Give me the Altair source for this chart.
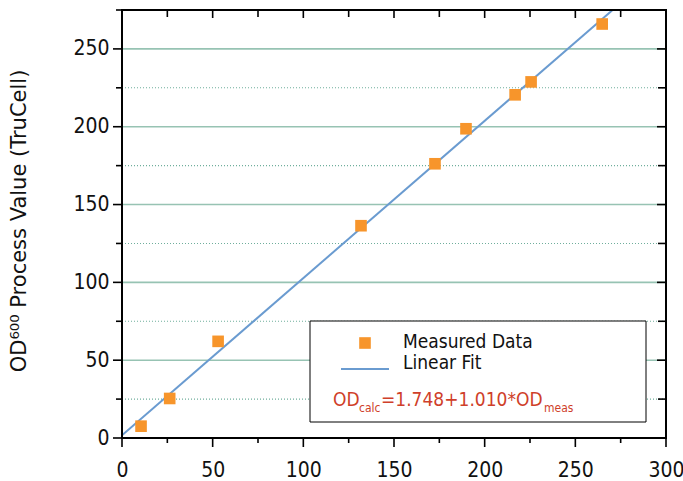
import altair as alt
import pandas as pd

# ---- data ----
x_meas = [10.5, 26.3, 53.0, 131.8, 172.6, 189.7, 216.8, 225.6, 264.8]
y_meas = [7.6, 25.4, 62.1, 136.4, 176.2, 198.7, 220.5, 228.8, 266.0]
fit_intercept = 1.748
fit_slope = 1.010
fit_x_range = [0, 300]

x_major = [0, 50, 100, 150, 200, 250, 300]
x_minor = [25, 75, 125, 175, 225, 275]
y_major = [0, 50, 100, 150, 200, 250]
y_minor = [25, 75, 125, 175, 225, 275]

FONT = "DejaVu Sans Condensed"
W, H = 544, 428

df_pts = pd.DataFrame({"x": x_meas, "y": y_meas})
df_fit = pd.DataFrame({"x": fit_x_range,
                       "y": [fit_intercept + fit_slope * v for v in fit_x_range]})
df_xmaj = pd.DataFrame({"v": x_major})
df_xmin = pd.DataFrame({"v": x_minor})
df_ymaj = pd.DataFrame({"v": y_major})
df_ymin = pd.DataFrame({"v": y_minor})
df_grid_major = pd.DataFrame({"v": y_major[1:]})

xs = alt.Scale(domain=[0, 300], nice=False, zero=False)
ys = alt.Scale(domain=[0, 275], nice=False, zero=False)

ax_x = alt.Axis(values=x_major, title=None, grid=False, domain=False,
                ticks=False, tickSize=0, labelPadding=21, labelFontSize=21,
                labelFont=FONT, labelColor="#111111", labelFlush=False)
ax_y = alt.Axis(values=y_major, title=None, grid=False, domain=False,
                ticks=False, tickSize=0, labelPadding=13, labelFontSize=21,
                labelFont=FONT, labelColor="#111111", labelFlush=False)

def X(field):
    return alt.X(field, type="quantitative", scale=xs, axis=ax_x)

def Y(field):
    return alt.Y(field, type="quantitative", scale=ys, axis=ax_y)

one = df_pts.head(1)

# grid lines
grid_major = alt.Chart(df_grid_major).mark_rule(color="#97c3b3", strokeWidth=1.6).encode(
    y=Y("v"), x=alt.value(0), x2=alt.value(W))
grid_minor = alt.Chart(df_ymin).mark_rule(color="#6fae9c", strokeWidth=1.1,
                                          strokeDash=[1, 2]).encode(
    y=Y("v"), x=alt.value(0), x2=alt.value(W))

# fitted line
fit = alt.Chart(df_fit).mark_line(color="#6a9bd0", strokeWidth=2, clip=True).encode(
    x=X("x"), y=Y("y"))

# measured points
pts = alt.Chart(df_pts).mark_square(size=135, color="#f7952b", opacity=1).encode(
    x=X("x"), y=Y("y"))

# frame
fr = dict(color="black", strokeWidth=2)
frame = [
    alt.Chart(one).mark_rule(**fr).encode(x=alt.value(0), y=alt.value(-1), y2=alt.value(H + 1)),
    alt.Chart(one).mark_rule(**fr).encode(x=alt.value(W), y=alt.value(-1), y2=alt.value(H + 1)),
    alt.Chart(one).mark_rule(**fr).encode(y=alt.value(0), x=alt.value(-1), x2=alt.value(W + 1)),
    alt.Chart(one).mark_rule(**fr).encode(y=alt.value(H), x=alt.value(-1), x2=alt.value(W + 1)),
]

# tick marks (outer left/bottom, inner top/right)
tk = dict(color="black", strokeWidth=1.6)
ticks = [
    alt.Chart(df_ymaj).mark_rule(**tk).encode(y=Y("v"), x=alt.value(-9), x2=alt.value(0)),
    alt.Chart(df_ymin).mark_rule(**tk).encode(y=Y("v"), x=alt.value(-6), x2=alt.value(0)),
    alt.Chart(df_xmaj).mark_rule(**tk).encode(x=X("v"), y=alt.value(H), y2=alt.value(H + 9)),
    alt.Chart(df_xmin).mark_rule(**tk).encode(x=X("v"), y=alt.value(H), y2=alt.value(H + 5)),
    alt.Chart(df_xmaj).mark_rule(**tk).encode(x=X("v"), y=alt.value(0), y2=alt.value(8)),
    alt.Chart(df_xmin).mark_rule(**tk).encode(x=X("v"), y=alt.value(0), y2=alt.value(7)),
    alt.Chart(df_ymaj).mark_rule(**tk).encode(y=Y("v"), x=alt.value(W - 9), x2=alt.value(W)),
    alt.Chart(df_ymin).mark_rule(**tk).encode(y=Y("v"), x=alt.value(W - 8), x2=alt.value(W)),
]

# y axis title
ytitle = alt.Chart(one).mark_text(
    text="OD⁶⁰⁰ Process Value (TruCell)", angle=270, align="center", baseline="middle",
    font="DejaVu Sans", fontSize=21, color="#111111").encode(x=alt.value(-102), y=alt.value(211))

# legend box
leg_box = alt.Chart(one).mark_rect(fill="white", stroke="black", strokeWidth=1).encode(
    x=alt.value(188), x2=alt.value(524), y=alt.value(311), y2=alt.value(412))
leg_sq = alt.Chart(one).mark_square(size=135, color="#f7952b", opacity=1).encode(
    x=alt.value(243), y=alt.value(333))
leg_ln = alt.Chart(one).mark_rule(color="#6a9bd0", strokeWidth=2.2).encode(
    x=alt.value(219), x2=alt.value(267), y=alt.value(359))
leg_t1 = alt.Chart(one).mark_text(text="Measured Data", align="left", baseline="middle",
                                  font=FONT, fontSize=19, color="#111111").encode(
    x=alt.value(281), y=alt.value(332))
leg_t2 = alt.Chart(one).mark_text(text="Linear Fit", align="left", baseline="middle",
                                  font=FONT, fontSize=19, color="#111111").encode(
    x=alt.value(281), y=alt.value(353))

RED = "#cf3f2a"
f1 = alt.Chart(one).mark_text(text="OD", align="left", baseline="alphabetic",
                              font=FONT, fontSize=19, color=RED).encode(
    x=alt.value(211), y=alt.value(396))
f2 = alt.Chart(one).mark_text(text="calc", align="left", baseline="alphabetic",
                              font=FONT, fontSize=12, color=RED).encode(
    x=alt.value(237), y=alt.value(402))
f3 = alt.Chart(one).mark_text(text="=1.748+1.010*OD", align="left", baseline="alphabetic",
                              font=FONT, fontSize=19, color=RED).encode(
    x=alt.value(259), y=alt.value(396))
f4 = alt.Chart(one).mark_text(text="meas", align="left", baseline="alphabetic",
                              font=FONT, fontSize=12, color=RED).encode(
    x=alt.value(422), y=alt.value(402))

chart = alt.layer(
    grid_minor, grid_major, fit, pts, *frame, *ticks, ytitle,
    leg_box, leg_sq, leg_ln, leg_t1, leg_t2, f1, f2, f3, f4
).properties(
    width=W, height=H,
    autosize=alt.AutoSizeParams(type="none"),
    padding={"left": 122, "top": 10, "right": 17, "bottom": 43},
).configure_view(strokeWidth=0).configure(background="white")

chart.save("out.html", embed_options={"renderer": "svg", "actions": False})
